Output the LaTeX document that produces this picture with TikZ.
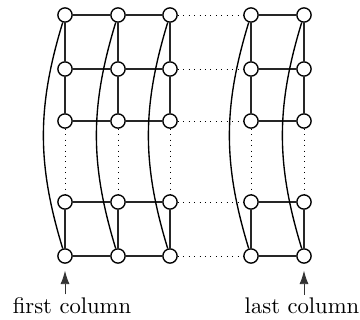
\documentclass[tikz,border=0pt]{standalone}
\usetikzlibrary{arrows.meta}

\begin{document}
\begin{tikzpicture} [x = 0.442pt, y = -0.442pt,
        vertex/.style = {circle, draw, semithick, fill = white,
            inner sep = 0pt, minimum size = 6.3pt},
        gridedge/.style = {thick, black!85},
        gap/.style = {dotted},
        wrap/.style = {semithick, bend right = 17},
        pointer/.style = {-{Latex[length = 6pt, width = 4pt]},
            black!80, shorten > = 3pt}]

        \useasboundingbox (0,0) rectangle (360,320);

        % vertices, v<column><row>
        \foreach \c/\x in {1/65, 2/118, 3/170, 4/251, 5/304}
            \foreach \r/\y in {1/15, 2/69, 3/121, 4/202, 5/256}
                \node (v\c\r) [vertex] at (\x,\y) {};

        % rows
        \foreach \r in {1,...,5} {
            \draw [gridedge] (v1\r) -- (v2\r) -- (v3\r);
            \draw [gridedge] (v4\r) -- (v5\r);
            \draw [gap] (v3\r) -- (v4\r);
        }

        % columns and wrap-around edges
        \foreach \c in {1,...,5} {
            \draw [gridedge] (v\c1) -- (v\c2) -- (v\c3);
            \draw [gridedge] (v\c4) -- (v\c5);
            \draw [gap] (v\c3) -- (v\c4);
            \draw [wrap] (v\c1) to (v\c5);
        }

        % labels
        \node (first) at (72,306) {first column};
        \node (last) at (302,306) {last column};
        \draw [pointer] ([yshift = -2pt] v15 |- first.north) -- (v15);
        \draw [pointer] ([yshift = -2pt] v55 |- last.north) -- (v55);

    \end{tikzpicture}
\end{document}
